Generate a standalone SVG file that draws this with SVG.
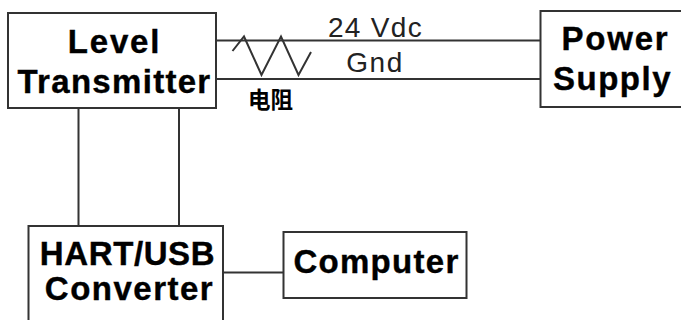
<svg xmlns="http://www.w3.org/2000/svg" width="681" height="320" viewBox="0 0 681 320">
<style>
.box{fill:#fff;stroke:#333;stroke-width:2}
.w{fill:none;stroke:#333;stroke-width:2}
.t{font-family:"Liberation Sans",Arial,sans-serif;font-weight:700;fill:#000;text-anchor:middle;font-size:33px;stroke:#000;stroke-width:.4}
.l{font-family:"Liberation Sans",Arial,sans-serif;fill:#222;text-anchor:middle;font-size:28px}
</style>
<rect width="681" height="320" fill="#fff"/>
<g id="connectors">
<path class="w" d="M216 40.500H540M216 79H540M78.500 108V226M179 108V226M223 272.500H284"/>
<path class="w" d="M232.500 51L244 36.500L261.500 75L281 36.500L298.500 75L311 52"/>
</g>
<g id="level-transmitter"><rect class="box" x="8" y="13" width="208" height="95"/>
<text class="t" x="114.500" y="52.500" letter-spacing="1.800">Level</text><text class="t" x="114.500" y="92.500" letter-spacing="1.300">Transmitter</text></g>
<g id="power-supply"><rect class="box" x="540.500" y="11" width="145" height="96"/>
<text class="t" x="615.500" y="50" letter-spacing="1.800">Power</text><text class="t" x="612.500" y="90" letter-spacing="1.500">Supply</text></g>
<g id="hart-usb"><rect class="box" x="28.500" y="226" width="194.500" height="100"/>
<text class="t" x="127.500" y="265" letter-spacing=".6">HART/USB</text><text class="t" x="129.500" y="300" letter-spacing="1.500">Converter</text></g>
<g id="computer"><rect class="box" x="283.500" y="232" width="183" height="66"/>
<text class="t" x="376.500" y="272.500" letter-spacing="1.300">Computer</text></g>
<text class="l" x="375.500" y="37" letter-spacing="1.300">24 Vdc</text>
<text class="l" x="375" y="72" letter-spacing="1.500">Gnd</text>
<text x="270.500" y="108" font-size="22.500" font-weight="700" text-anchor="middle" font-family="'Noto Sans CJK SC',sans-serif">电阻</text>
</svg>
